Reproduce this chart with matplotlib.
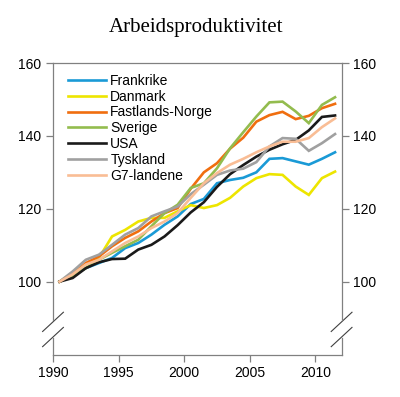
import numpy as np
import matplotlib
matplotlib.use("Agg")
import matplotlib.pyplot as plt

plt.rcParams['font.family'] = ['Liberation Sans', 'DejaVu Sans']

years = np.arange(1990, 2012)

frankrike = [100, 102, 103.7, 105.1, 106.5, 109.2, 110.6, 112.9, 115.6, 117.9, 121.3,
             122.7, 127, 127.9, 128.5, 130, 133.7, 133.9, 133, 132.1, 133.7, 135.5]
danmark = [100, 102.4, 104.7, 106.5, 112.4, 114.2, 116.5, 117.5, 117.5, 119.3, 121,
           120.2, 121, 123, 126.1, 128.4, 129.5, 129.3, 126.1, 123.8, 128.4, 130.2]
norge = [100, 102, 105.1, 106.9, 109.7, 112, 113.8, 116.5, 118.8, 120.2, 125.5,
         130, 132.5, 136.5, 139.5, 143.9, 145.7, 146.6, 144.6, 145.5, 147.6, 148.8]
sverige = [100, 101.6, 103.7, 106, 107.9, 109.7, 111.5, 115.2, 118.8, 121.1, 125.7,
           127, 131.1, 136.6, 141, 145.3, 149.2, 149.4, 146.7, 143.5, 148.5, 150.6]
usa = [100, 101, 103.7, 105.3, 106.2, 106.3, 108.8, 110.1, 112.4, 115.5, 119,
       121.8, 126, 129.5, 132, 134.3, 136.2, 137.7, 138.9, 141.5, 145.2, 145.6]
tyskland = [100, 102.8, 106, 107.4, 110.1, 112.9, 114.7, 117.9, 119.3, 120.6, 124,
            126.6, 129.3, 130.5, 131, 132.8, 137.1, 139.4, 139.2, 135.9, 138, 140.5]
g7 = [100, 102, 104.7, 106, 108.3, 110.6, 112.4, 114.7, 116.5, 118.8, 123,
      127, 129.8, 132.1, 133.7, 135.5, 137.1, 138.4, 138.4, 139.4, 142.4, 144.8]

series = [
    ("Frankrike", frankrike, "#1a9ad6"),
    ("Danmark", danmark, "#ede500"),
    ("Fastlands-Norge", norge, "#f06e0f"),
    ("Sverige", sverige, "#93bc4e"),
    ("USA", usa, "#1a1a1a"),
    ("Tyskland", tyskland, "#a0a0a0"),
    ("G7-landene", g7, "#f9bd95"),
]

fig = plt.figure(figsize=(4.0, 3.97), dpi=100)
ax = fig.add_axes([0.1325, 0.107, 0.7215, 0.7343])

for name, vals, col in series:
    ax.plot(years + 0.5, vals, color=col, lw=1.9, label=name, solid_joinstyle='miter')

ax.set_xlim(1990, 2012)
ax.set_ylim(80, 160)
ax.set_xticks([1990, 1995, 2000, 2005, 2010])
ax.set_yticks([100, 120, 140, 160])
ax.tick_params(axis='both', labelsize=10, length=5, width=0.9, color='#808080', direction='out')
ax.tick_params(axis='y', left=True, right=True, labelleft=True, labelright=True)

for side in ['left', 'right', 'top', 'bottom']:
    ax.spines[side].set_color('#808080')
    ax.spines[side].set_linewidth(0.9)
ax.spines['left'].set_bounds(89.5, 160)
ax.spines['right'].set_bounds(89.5, 160)
for xs in (0, 1):
    ax.plot([xs, xs], [80, 84.5], color='#808080', lw=0.9, clip_on=False,
            transform=ax.get_yaxis_transform())

# axis break marks
dx, dy = 0.036, 0.033
for xs in (0, 1):
    for yc in (0.112, 0.06):
        ax.plot([xs - dx, xs + dx], [yc - dy, yc + dy], transform=ax.transAxes,
                color='#404040', lw=0.8, clip_on=False)

ax.legend(loc='upper left', bbox_to_anchor=(0.052, 0.963), frameon=False, fontsize=10,
          handlelength=2.7, handletextpad=0.35, labelspacing=0.13, borderpad=0, borderaxespad=0)

fig.text(0.49, 0.92, "Arbeidsproduktivitet", ha='center', va='baseline',
         fontsize=15, family=['Liberation Serif', 'DejaVu Serif'])

fig.savefig('out.png', dpi=100)
